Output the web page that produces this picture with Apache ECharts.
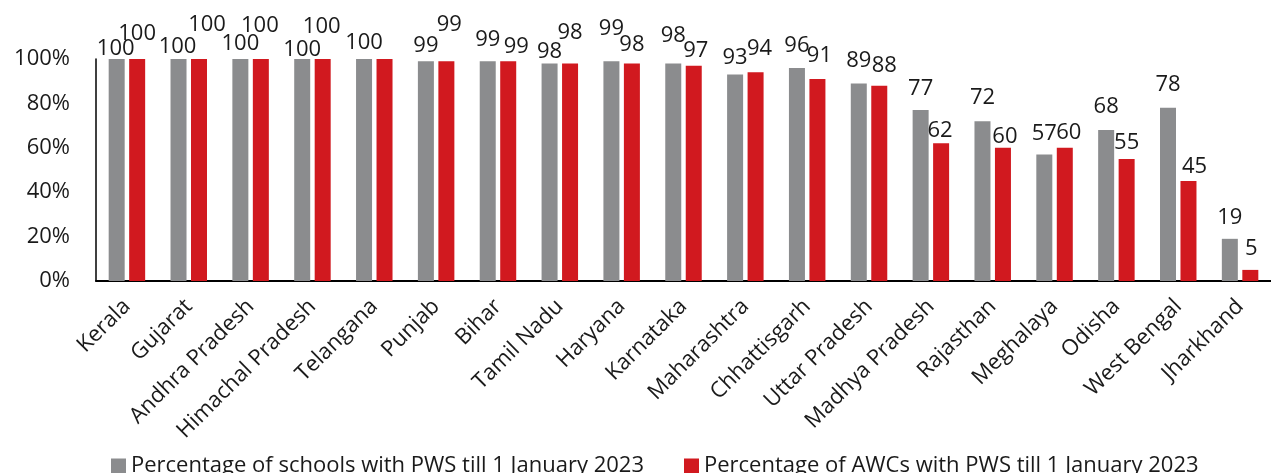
<!DOCTYPE html>
<html>
<head>
<meta charset="utf-8">
<script src="https://cdn.jsdelivr.net/npm/echarts@6/dist/echarts.min.js"></script>
<style>
  html, body { margin: 0; padding: 0; background: #fff; }
  #chart { width: 1271px; height: 473px; }
</style>
</head>
<body>
<div id="chart"></div>
<script>
const states = [
  "Kerala", "Gujarat", "Andhra Pradesh", "Himachal Pradesh", "Telangana",
  "Punjab", "Bihar", "Tamil Nadu", "Haryana", "Karnataka", "Maharashtra",
  "Chhattisgarh", "Uttar Pradesh", "Madhya Pradesh", "Rajasthan",
  "Meghalaya", "Odisha", "West Bengal", "Jharkhand"
];
const schools = [100, 100, 100, 100, 100, 99, 99, 98, 99, 98, 93, 96, 89, 77, 72, 57, 68, 78, 19];
const awcs = [100, 100, 100, 100, 100, 99, 99, 98, 98, 97, 94, 91, 88, 62, 60, 60, 55, 45, 5];
const yTicks = [0, 20, 40, 60, 80, 100];

// label nudges [dx, dy] copied from the original's hand-placed labels (null = not shown)
const schoolLabelShift = [
  [-1, 11], [-1, 9], [0, 6], [0, 12], [0, 5], [0, 6], [0, 0], [0, 9], [0, -11], [0, -7],
  [0, 4], [0, -1], [0, -2], [0, 0], [0, -2], [0, 0], [0, -2], [0, -2], [0, 0]
];
const awcLabelShift = [
  [0, -4], [8, -13], [-1, -12], [-1, -11], null, [3, -15], [8, 7], [0, -10], [0, 2], [2, 6],
  [4, -3], [2, -2], [5, 1], [-1, 8], [2, 10], [4, 6], [0, 5], [6, 7], [1, 0]
];

const FONT = "Open Sans";
const FS = 22;
const INK = "#1a1a1a";

function withLabels(values, shifts) {
  return values.map(function (v, i) {
    const s = shifts[i];
    if (!s) return { value: v, label: { show: false } };
    return { value: v, label: { offset: s } };
  });
}

const chart = echarts.init(document.getElementById("chart"));
chart.setOption({
  animation: false,
  textStyle: { fontFamily: FONT, color: INK },
  grid: { left: 96, top: 59, height: 222, width: 1187.5 },
  legend: {
    left: 106,
    top: 450,
    itemWidth: 15,
    itemHeight: 15,
    itemGap: 40,
    icon: "rect",
    textStyle: { fontFamily: FONT, fontSize: FS, color: INK },
    data: ["Percentage of schools with PWS till 1 January 2023", "Percentage of AWCs with PWS till 1 January 2023"]
  },
  xAxis: {
    type: "category",
    data: states,
    axisLine: { lineStyle: { color: "#000", width: 2 } },
    axisTick: { show: false },
    axisLabel: { rotate: 45, margin: 22, interval: 0, fontSize: FS, color: INK, fontFamily: FONT }
  },
  yAxis: {
    type: "value",
    min: yTicks[0],
    max: yTicks[yTicks.length - 1],
    interval: 20,
    splitLine: { show: false },
    axisLine: { show: true, lineStyle: { color: "#000", width: 1.5 } },
    axisTick: { show: false },
    axisLabel: { formatter: "{value}%", margin: 26, fontSize: FS, color: INK, fontFamily: FONT }
  },
  series: [
    {
      name: "Percentage of schools with PWS till 1 January 2023",
      type: "bar",
      barWidth: 16,
      barGap: "28%",
      itemStyle: { color: "#8b8c8e" },
      label: { show: true, position: "top", distance: 10, fontSize: FS, color: INK, fontFamily: FONT },
      data: withLabels(schools, schoolLabelShift)
    },
    {
      name: "Percentage of AWCs with PWS till 1 January 2023",
      type: "bar",
      barWidth: 16,
      itemStyle: { color: "#d1191f" },
      label: { show: true, position: "top", distance: 10, fontSize: FS, color: INK, fontFamily: FONT },
      data: withLabels(awcs, awcLabelShift)
    }
  ]
});
</script>
</body>
</html>
